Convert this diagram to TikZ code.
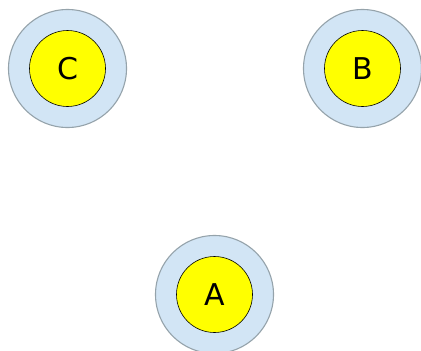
\documentclass[tikz,border=0pt]{standalone}
\usepackage{fontspec}
\setmainfont{DejaVu Sans}
\definecolor{ringblue}{HTML}{D2E5F5}
\definecolor{ringgray}{HTML}{95A3AB}
\definecolor{pureyellow}{RGB}{255,255,0}
\begin{document}
\begin{tikzpicture}[x=1pt,y=-1pt,
  outerc/.style={circle,draw=ringgray,line width=1.1pt,fill=ringblue,minimum size=118pt,inner sep=0pt},
  innerc/.style={circle,draw=black,line width=0.6pt,fill=pureyellow,minimum size=76pt,inner sep=0pt,font=\fontsize{30}{32}\selectfont}]
\useasboundingbox (0,0) rectangle (421,351);
\node[outerc] (oc) at (67.5,68.5) {};
\node[innerc] (c) at (67.5,68.5) {C};
\node[outerc] (ob) at (362.5,68.5) {};
\node[innerc] (b) at (362.5,68.5) {B};
\node[outerc] (oa) at (214.5,294.5) {};
\node[innerc] (a) at (214.5,294.5) {A};
\end{tikzpicture}
\end{document}
